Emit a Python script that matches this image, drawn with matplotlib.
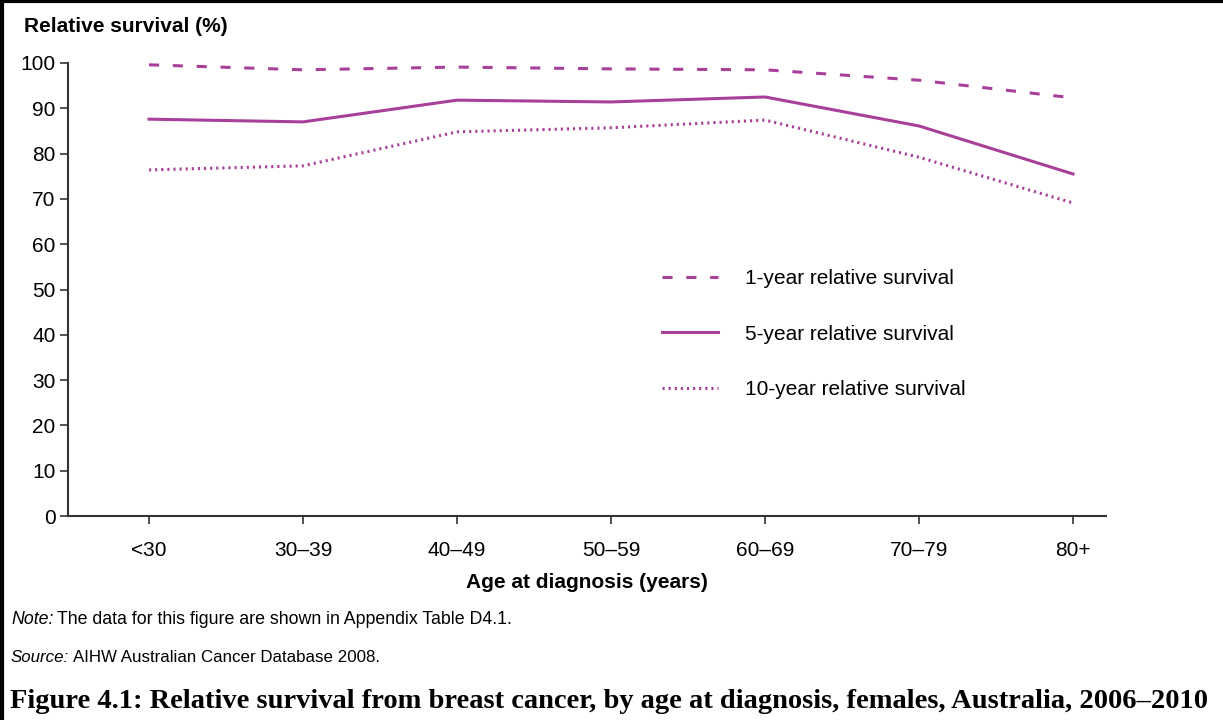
import matplotlib
matplotlib.use("Agg")
import matplotlib.pyplot as plt
from matplotlib.lines import Line2D

categories = ["<30", "30–39", "40–49", "50–59", "60–69", "70–79", "80+"]
one_year = [99.6, 98.5, 99.1, 98.7, 98.5, 96.2, 92.3]
five_year = [87.6, 87.0, 91.8, 91.4, 92.5, 86.1, 75.5]
ten_year = [76.4, 77.3, 84.8, 85.7, 87.4, 79.2, 69.1]
y_ticks = [0, 10, 20, 30, 40, 50, 60, 70, 80, 90, 100]

color = "#a8409a"
plt.rcParams["font.family"] = ["Liberation Sans", "DejaVu Sans"]

fig = plt.figure(figsize=(12.23, 7.2), dpi=100)
ax = fig.add_axes([68/1223, 1-516/720, (1106-68)/1223, (516-63)/720])

x = list(range(len(categories)))
ax.plot(x, one_year, color=color, lw=2.2, linestyle=(0, (3.3, 4.5)), label="1-year relative survival")
ax.plot(x, five_year, color=color, lw=2.2, linestyle="-", label="5-year relative survival")
ax.plot(x, ten_year, color=color, lw=2.2, linestyle=(0, (0.7, 1.3)), label="10-year relative survival")

ax.set_xlim(-0.526, 6.214)
ax.set_ylim(0, 100)
ax.set_xticks(x)
ax.set_xticklabels(categories, fontsize=15)
ax.set_yticks(y_ticks)
ax.set_yticklabels([str(v) for v in y_ticks], fontsize=15)
for s in ["top", "right"]:
    ax.spines[s].set_visible(False)
for s in ["left", "bottom"]:
    ax.spines[s].set_color("#333333")
    ax.spines[s].set_linewidth(1.5)
ax.tick_params(axis="both", length=6, width=1.2, color="#333333")
ax.tick_params(axis="y", pad=3)
ax.tick_params(axis="x", pad=12)

ax.set_xlabel("Age at diagnosis (years)", fontsize=15, fontweight="bold", labelpad=9)

leg = ax.legend(loc="upper left", bbox_to_anchor=(0.572, 0.545), frameon=False, fontsize=15,
                handlelength=2.7, handletextpad=1.3, labelspacing=1.75,
                borderpad=0, borderaxespad=0)

fig.text(24/1223, 1-26/720, "Relative survival (%)", fontsize=15, fontweight="bold", va="center", ha="left")

renderer = fig.canvas.get_renderer()

def note_line(y, italic, rest, size):
    t = fig.text(11/1223, y, italic, fontsize=size, style="italic", va="center", ha="left")
    bb = t.get_window_extent(renderer=renderer)
    fig.text((bb.x1 + 4)/1223, y, rest, fontsize=size, va="center", ha="left")

note_line(1-620/720, "Note:", "The data for this figure are shown in Appendix Table D4.1.", 12.8)
note_line(1-658/720, "Source:", "AIHW Australian Cancer Database 2008.", 12.2)

fig.text(10/1223, 1-701/720, "Figure 4.1: Relative survival from breast cancer, by age at diagnosis, females, Australia, 2006–2010",
         fontsize=20.5, fontweight="bold", family=["Liberation Serif", "DejaVu Serif"], va="center", ha="left")

fig.add_artist(Line2D([0.0015, 0.0015], [0, 1], transform=fig.transFigure, color="black", lw=3))
fig.add_artist(Line2D([0, 1], [0.998, 0.998], transform=fig.transFigure, color="black", lw=3))

fig.savefig("out.png", dpi=100)
